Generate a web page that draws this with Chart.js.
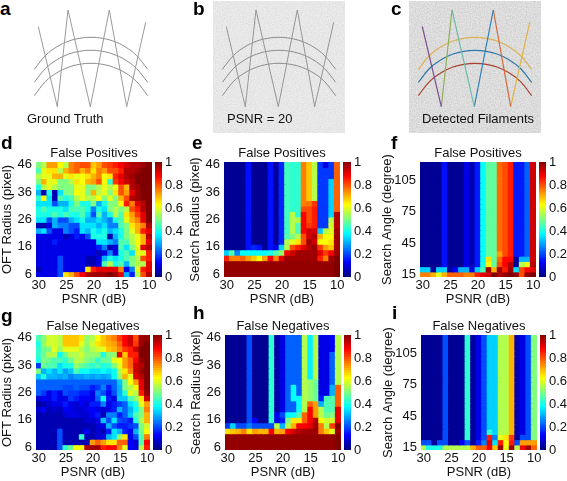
<!DOCTYPE html>
<html><head><meta charset="utf-8">
<script src="https://cdn.jsdelivr.net/npm/chart.js@4"></script>
<style>
html,body{margin:0;padding:0;background:#fff;width:567px;height:481px;overflow:hidden;font-family:"Liberation Sans",Arial,sans-serif}
canvas{position:absolute;display:block}
.t{position:absolute;white-space:nowrap;color:#111;font-size:13px;line-height:16px}
.l{position:absolute;white-space:nowrap;color:#000;font-weight:bold;font-size:19px;line-height:20px}
.nb{background-color:#ececec;background-image:url("data:image/svg+xml,%3Csvg xmlns='http://www.w3.org/2000/svg' width='140' height='140'%3E%3Cfilter id='n'%3E%3CfeTurbulence type='fractalNoise' baseFrequency='0.85' numOctaves='2' seed='3'/%3E%3CfeColorMatrix values='0 0 0 0 .5 0 0 0 0 .5 0 0 0 0 .5 .7 0 0 0 -.25'/%3E%3C/filter%3E%3Crect width='140' height='140' filter='url(%23n)'/%3E%3C/svg%3E")}
.nc{background-color:#e4e4e4;background-image:url("data:image/svg+xml,%3Csvg xmlns='http://www.w3.org/2000/svg' width='140' height='140'%3E%3Cfilter id='n'%3E%3CfeTurbulence type='fractalNoise' baseFrequency='0.8' numOctaves='2' seed='8'/%3E%3CfeColorMatrix values='0 0 0 0 .45 0 0 0 0 .45 0 0 0 0 .45 1 0 0 0 -.33'/%3E%3C/filter%3E%3Crect width='140' height='140' filter='url(%23n)'/%3E%3C/svg%3E")}
</style></head><body>
<script>
// ---- tick labels / categories
const psnrCategories=[30,29,28,27,26,25,24,23,22,21,20,19,18,17,16,15,14,13,12,11,10];
const psnrTicks=[30,25,20,15,10];
const radiusRows=[46,44,42,40,38,36,34,32,30,28,26,24,22,20,18,16,14,12,10,8,6];
const radiusTicks=[6,16,26,36,46];
const angleRows=[120,115,110,105,100,95,90,85,80,75,70,65,60,55,50,45,40,35,30,25,20,15];
const angleTicks=[15,45,75,105];
const colorbarLevels=[0,2,4,6,8,10,12,14,16,18,20,22,24,26,28,30,32,34,36,38,40,42,44,46,48,50,52,54,56,58,60,62,64,66,68,70,72,74,76,78,80,82,84,86,88,90,92,94,96,98,100];
const colorbarTicks=[0,0.2,0.4,0.6,0.8,1];

// ---- values, percent; rows run top to bottom
const fpOft=[
[50,55,72,72,62,55,75,78,80,80,68,72,80,82,85,88,92,95,95,97,100],
[45,60,65,65,55,70,75,78,70,75,65,75,72,80,80,85,95,95,97,100,100],
[55,60,60,70,70,60,65,60,62,65,70,75,62,65,85,90,95,97,100,100,100],
[50,70,60,60,50,50,55,65,62,70,72,80,62,42,82,88,93,95,100,100,100],
[40,55,60,55,50,50,50,60,60,50,50,55,60,55,60,80,70,95,97,100,100],
[30,5,40,5,35,50,50,62,60,50,70,55,60,50,65,80,72,90,97,100,100],
[42,62,35,5,45,40,45,55,60,55,55,62,50,60,50,70,80,95,97,100,100],
[35,35,35,20,30,30,40,50,40,40,50,30,40,50,50,62,85,75,90,95,100],
[40,45,40,40,40,35,45,45,45,40,25,40,35,50,55,50,55,80,85,95,100],
[40,40,40,45,40,45,40,40,45,35,20,45,30,40,55,45,65,72,82,90,100],
[35,35,20,30,20,20,30,35,40,30,30,35,30,25,40,45,60,70,75,90,100],
[5,5,10,30,25,25,20,20,35,35,35,30,35,25,25,45,50,65,70,75,95],
[30,35,20,10,10,25,20,15,35,30,40,35,40,30,35,40,50,60,70,85,90],
[10,10,10,10,10,5,10,15,10,20,40,40,40,5,30,40,50,55,60,70,95],
[10,10,10,15,10,10,10,10,10,10,10,35,35,30,25,45,45,55,62,70,90],
[10,10,10,10,10,10,10,10,10,10,10,15,25,5,10,45,35,50,60,90,95],
[10,10,10,10,10,10,10,10,10,10,10,5,10,25,10,40,45,35,60,60,85],
[10,10,10,10,20,10,10,10,10,5,5,10,30,40,35,40,45,50,55,80,85],
[10,10,10,10,20,10,10,10,10,5,5,10,45,55,40,45,30,50,55,55,90],
[5,10,10,10,20,10,10,10,10,65,85,90,90,90,90,75,10,25,60,85,90],
[10,10,10,10,20,65,70,80,88,95,97,97,97,100,97,90,30,15,55,80,95]];

const fnOft=[
[45,50,58,58,55,68,68,68,65,52,55,62,68,72,75,82,88,92,80,97,98],
[40,52,58,58,55,68,68,68,60,52,58,65,68,70,72,78,88,92,82,97,100],
[42,48,50,60,52,60,60,60,55,50,55,58,60,68,70,75,82,85,92,100,100],
[42,48,55,55,38,48,55,55,58,52,52,52,40,50,52,90,68,85,85,100,100],
[40,50,48,45,45,42,48,55,55,50,48,42,48,48,60,62,72,78,88,98,100],
[18,48,45,45,35,40,40,52,48,45,42,45,40,42,50,60,72,78,92,95,100],
[50,30,35,30,35,28,32,45,38,38,35,35,38,35,38,55,65,75,92,98,100],
[32,40,30,30,28,30,25,28,28,30,28,30,28,30,38,52,70,60,90,95,100],
[22,22,22,22,22,22,22,22,22,22,22,22,22,22,22,32,50,62,72,90,100],
[22,22,22,22,22,20,20,22,20,20,15,18,25,15,22,30,50,55,62,90,100],
[22,18,10,15,10,20,18,18,15,15,10,25,20,12,20,30,42,60,55,85,98],
[8,12,10,15,10,10,18,15,12,12,10,22,38,15,10,32,32,45,52,65,92],
[3,5,8,10,10,15,10,8,12,8,15,15,25,10,15,18,22,35,40,60,72],
[8,12,5,8,5,12,10,8,8,10,12,10,8,10,15,30,22,30,38,50,75],
[5,5,5,5,5,8,10,10,8,8,12,15,5,25,25,15,22,32,45,50,70],
[5,5,5,5,5,5,5,5,5,8,8,10,32,20,35,20,18,15,40,55,70],
[5,5,5,5,5,5,5,5,5,5,5,8,10,30,20,15,15,18,20,50,58],
[5,5,5,5,20,5,5,5,5,12,5,8,5,15,35,30,15,12,30,48,62],
[5,5,5,5,20,5,5,5,42,5,5,8,10,30,35,52,65,10,20,45,75],
[5,5,5,5,20,5,5,5,5,5,72,78,72,65,65,78,78,12,8,45,88],
[5,5,5,5,20,42,48,62,62,95,97,97,85,88,88,75,60,12,10,55,85]];

const fpRad0=[2,2,2,2,14,2,2,2,14,3,16,44,42,42,75,68,55,18,10,18,78];
const fpRad1=[2,2,2,2,14,2,2,2,14,3,16,44,42,42,75,68,55,18,18,18,78];
const fpRad3=[2,2,2,2,14,2,2,2,14,3,16,44,42,42,75,68,55,18,18,33,78];
const fpRadBase=[98,98,98,98,98,98,98,98,98,98,98,98,98,98,98,98,98,98,98,98,100];
const fpRadius=[fpRad0,fpRad1,fpRad1,fpRad3,fpRad3,fpRad3,fpRad3,
[2,2,2,2,14,2,2,2,14,3,16,44,42,42,75,76,82,18,18,33,78],
[2,2,2,2,14,2,2,2,14,3,16,44,42,42,80,80,85,18,18,33,78],
[2,2,2,2,14,2,2,2,14,3,16,44,55,42,88,80,85,18,18,33,95],
[2,2,2,2,14,2,2,2,14,3,16,44,55,55,88,80,85,18,18,55,95],
[2,2,2,2,14,2,2,2,14,3,16,44,55,45,88,82,85,18,18,58,95],
[2,2,2,2,14,2,2,2,14,3,16,44,55,45,88,92,92,32,55,60,97],
[2,2,2,2,14,2,2,2,14,3,16,45,50,55,80,92,95,70,62,62,97],
[2,2,2,2,14,2,2,2,14,3,16,55,60,65,80,97,92,62,62,65,97],
[2,2,2,2,14,16,14,2,14,10,33,55,80,85,90,95,97,82,72,68,97],
[33,45,25,38,38,38,38,38,40,45,52,88,92,97,97,97,97,90,82,88,97],
[85,75,75,78,72,68,62,72,88,75,90,97,97,97,97,97,97,85,75,97,100],
fpRadBase,fpRadBase,fpRadBase];

const fnRad0=[2,2,2,2,20,2,2,2,42,4,10,22,22,22,55,36,55,10,10,12,55];
const fnRad3=[2,2,2,2,20,2,2,2,42,4,10,22,22,22,55,36,55,10,10,22,55];
const fnRadius=[fnRad0,fnRad0,fnRad0,fnRad3,fnRad3,fnRad3,fnRad3,fnRad3,
[2,2,2,2,20,2,2,2,42,4,10,22,22,22,55,52,48,10,10,22,55],
[2,2,2,2,20,2,2,2,42,4,10,22,38,22,55,52,48,10,10,30,78],
[2,2,2,2,20,2,2,2,42,4,10,22,38,22,55,52,48,10,10,30,78],
[2,2,2,2,20,2,2,2,42,4,10,22,38,38,55,52,48,15,45,45,78],
[2,2,2,2,20,2,2,2,42,4,10,22,22,38,55,78,72,30,45,45,78],
[2,2,2,2,20,2,2,2,42,4,10,22,22,38,55,88,72,55,45,45,90],
[2,2,2,2,20,2,2,2,42,10,20,38,38,45,78,88,72,55,48,50,90],
[2,2,2,2,20,12,2,2,42,10,15,50,65,65,78,88,95,62,58,58,90],
[18,33,20,20,25,20,20,20,20,55,30,55,70,88,88,90,97,75,55,82,100],
[65,68,70,75,65,72,70,70,88,70,72,88,92,95,97,97,97,75,68,60,97],
fpRadBase,fpRadBase,fpRadBase];

const fpAng0=[2,2,2,2,14,2,2,2,10,5,15,38,47,47,77,80,85,15,15,22,92];
const fpAngle=[fpAng0,fpAng0,fpAng0,fpAng0,fpAng0,fpAng0,fpAng0,fpAng0,fpAng0,fpAng0,fpAng0,fpAng0,fpAng0,fpAng0,fpAng0,fpAng0,fpAng0,
[2,2,2,2,14,2,2,2,10,5,15,38,47,47,72,80,85,15,15,22,92],
[2,2,2,2,14,2,2,2,10,5,15,38,65,47,77,87,87,3,30,30,92],
[2,2,2,2,14,2,2,2,10,5,15,40,62,47,80,88,95,3,55,60,95],
[33,33,3,33,33,3,12,30,30,10,33,45,97,70,97,85,97,35,80,87,90],
[75,75,70,60,70,78,78,78,75,75,85,90,92,100,95,98,100,98,80,98,100]];

const fnAng0=[2,2,2,2,20,2,2,2,42,3,10,20,33,33,55,55,70,5,10,20,50];
const fnAngle=[fnAng0,fnAng0,fnAng0,fnAng0,fnAng0,fnAng0,fnAng0,fnAng0,fnAng0,fnAng0,fnAng0,fnAng0,fnAng0,fnAng0,fnAng0,fnAng0,fnAng0,fnAng0,
[2,2,2,2,20,2,2,2,42,3,10,20,42,33,55,55,70,5,10,20,50],
[2,2,2,2,20,2,2,2,42,3,10,20,85,25,60,65,82,3,20,20,50],
[20,20,3,20,20,3,3,12,20,3,15,25,90,35,85,62,85,20,72,72,72],
[55,40,40,40,55,55,55,55,55,70,78,78,88,68,97,60,97,55,88,97,78]];

// ---- line drawings, measured in picture pixels of the first frame
const zigzagX=[38.3,57.3,68,90.3,109.3,126.7,145.7];
const zigzagY=[26.7,106.7,10,106.7,10,106.7,22.3];
const arcX=[34.3,45.7,57,68.3,79.7,91,102.3,113.7,125,136.3,147.7];
const arcTopY=[69.3,55.3,46.7,41.3,38.3,37.3,38.3,41.3,46.7,55.3,69.3];
const arcMidY=[82.3,68.3,59.7,54.3,51.3,50.3,51.3,54.3,59.7,68.3,82.3];
const arcLowY=[95.7,81.3,72.7,67.3,64.3,63.3,64.3,67.3,72.7,81.3,95.7];
const detectedColors=['#7a4b8e','#8fae5c','#6fbcab','#2f82b4','#d46a3a','#e0b445'];
const arcColors=['#dcb257','#2e78a9','#a9412f'];

// ---- jet colour map
function jet(v){v=Math.max(0,Math.min(1,v));
 const c=t=>Math.round(255*Math.max(0,Math.min(1,t)));
 return `rgb(${c(1.5-Math.abs(4*v-3))},${c(1.5-Math.abs(4*v-2))},${c(1.5-Math.abs(4*v-1))})`;}
const FONT='"Liberation Sans",Arial,sans-serif', FS=13, INK='#111';

function addCanvas(l,t,w,h,cls){const c=document.createElement('canvas');c.width=w;c.height=h;
 c.style.cssText=`left:${l}px;top:${t}px;width:${w}px;height:${h}px`;if(cls)c.className=cls;document.body.appendChild(c);return c.getContext('2d');}
function addText(cls,l,t,s){const d=document.createElement('div');d.className=cls;d.style.left=l+'px';d.style.top=t+'px';d.textContent=s;document.body.appendChild(d);}

function heat(o){
 const ROW=o.rowStep/2, W=o.plotW, axisW=o.plotL-o.titleL;
 const canvasW=axisW+W+12, canvasH=16+115+30;
 const datasets=o.values.map((row,r)=>({
   data:row.map(v=>[o.rows[r]-ROW,o.rows[r]+ROW]),
   backgroundColor:row.map(v=>jet(v/100)),
   borderWidth:0,inflateAmount:0.6,barPercentage:1,categoryPercentage:1}));
 new Chart(addCanvas(o.titleL,o.plotT-16,canvasW,canvasH),{type:'bar',
  data:{labels:psnrCategories,datasets},
  options:{responsive:false,animation:false,events:[],
   layout:{padding:{left:0,right:12,top:0,bottom:0}},
   plugins:{legend:{display:false},tooltip:{enabled:false},
    title:{display:true,text:o.title,fullSize:false,color:INK,font:{family:FONT,size:FS,weight:'normal',lineHeight:1.2},padding:{top:0,bottom:0.4}}},
   scales:{
    x:{stacked:true,grid:{display:false,drawTicks:false},border:{display:false},
      title:{display:true,text:'PSNR (dB)',color:INK,font:{family:FONT,size:FS},padding:0},
      ticks:{color:INK,font:{family:FONT,size:FS},padding:1,maxRotation:0,minRotation:0,autoSkip:false,
        callback(v){const s=+this.getLabelForValue(v);return psnrTicks.includes(s)?String(s):'';}},
      afterFit(s){s.height=30;s.paddingLeft=0;s.paddingRight=0;}},
    y:{min:o.rows[o.rows.length-1]-ROW,max:o.rows[0]+ROW,grid:{display:false,drawTicks:false},border:{display:false},
      title:{display:true,text:o.yTitle,color:INK,font:{family:FONT,size:FS},padding:0},
      ticks:{color:INK,font:{family:FONT,size:FS},padding:4},
      afterBuildTicks(s){s.ticks=o.yTicks.map(value=>({value}));},
      afterFit(s){s.width=axisW;s.paddingTop=0;s.paddingBottom=0;}}
   }}});
 // colour bar
 const bars=colorbarLevels.map(v=>({data:[[Math.max(0,v-1)/100,Math.min(100,v+1)/100]],backgroundColor:jet(v/100),borderWidth:0,inflateAmount:0.4,barPercentage:1,categoryPercentage:1}));
 new Chart(addCanvas(o.cbL,o.plotT-10,o.cbW+32,135),{type:'bar',
  data:{labels:['scale'],datasets:bars},
  options:{responsive:false,animation:false,events:[],
   layout:{padding:{top:10,bottom:10,left:0,right:0}},
   plugins:{legend:{display:false},tooltip:{enabled:false}},
   scales:{
    x:{stacked:true,display:false},
    y:{position:'right',min:0,max:1,grid:{display:false,drawTicks:false},border:{display:false},
      ticks:{color:INK,font:{family:FONT,size:FS},padding:3,callback:v=>String(+v)},
      afterBuildTicks(s){s.ticks=colorbarTicks.map(value=>({value}));},
      afterFit(s){s.width=32;s.paddingTop=0;s.paddingBottom=0;}}
   }}});
}

heat({title:'False Positives',yTitle:'OFT Radius (pixel)',values:fpOft,rows:radiusRows,rowStep:2,yTicks:radiusTicks,titleL:0,plotL:36,plotT:162,plotW:116,cbL:155,cbW:7});
heat({title:'False Positives',yTitle:'Search Radius (pixel)',values:fpRadius,rows:radiusRows,rowStep:2,yTicks:radiusTicks,titleL:188,plotL:224,plotT:162,plotW:116,cbL:343,cbW:8});
heat({title:'False Positives',yTitle:'Search Angle (degree)',values:fpAngle,rows:angleRows,rowStep:5,yTicks:angleTicks,titleL:380,plotL:420,plotT:162,plotW:116,cbL:539,cbW:7});
heat({title:'False Negatives',yTitle:'OFT Radius (pixel)',values:fnOft,rows:radiusRows,rowStep:2,yTicks:radiusTicks,titleL:0,plotL:36,plotT:335,plotW:114,cbL:153,cbW:9});
heat({title:'False Negatives',yTitle:'Search Radius (pixel)',values:fnRadius,rows:radiusRows,rowStep:2,yTicks:radiusTicks,titleL:189,plotL:225,plotT:335,plotW:116,cbL:344,cbW:7});
heat({title:'False Negatives',yTitle:'Search Angle (degree)',values:fnAngle,rows:angleRows,rowStep:5,yTicks:angleTicks,titleL:381,plotL:421,plotT:335,plotW:116,cbL:540,cbW:6});

function pts(xs,ys){return xs.map((x,i)=>({x,y:ys[i]}));}
function drawing(left,cls,sets){
 new Chart(addCanvas(left,1,132,132,cls),{type:'scatter',data:{datasets:sets},
  options:{responsive:false,animation:false,events:[],layout:{padding:0},
   plugins:{legend:{display:false},tooltip:{enabled:false}},
   scales:{x:{type:'linear',display:false,min:25,max:157},y:{type:'linear',display:false,min:1,max:133,reverse:true}}}});
}
const line=(data,color,w,tension)=>({data,showLine:true,pointRadius:0,borderColor:color,borderWidth:w,tension:tension||0,fill:false});
const arcs=[arcTopY,arcMidY,arcLowY];
drawing(25,'',[line(pts(zigzagX,zigzagY),'#9a9a9a',1),...arcs.map(a=>line(pts(arcX,a),'#8c8c8c',1,0.4))]);
drawing(213,'nb',[line(pts(zigzagX,zigzagY),'#969696',1),...arcs.map(a=>line(pts(arcX,a),'#8a8a8a',1,0.4))]);
drawing(409,'nc',[...detectedColors.map((c,i)=>line(pts(zigzagX.slice(i,i+2),zigzagY.slice(i,i+2)),c,1.2)),...arcs.map((a,i)=>line(pts(arcX,a),arcColors[i],1.2,0.4))]);

addText('t',27,111,'Ground Truth');
addText('t',227,111,'PSNR = 20');
addText('t',422,111,'Detected Filaments');
[['a',0,-1],['b',193,-1],['c',391,-1],['d',1,133],['e',192,133],['f',391,133],['g',1,306],['h',193,303],['i',392,303]]
 .forEach(([s,l,t])=>addText('l',l,t,s));
</script>
</body></html>
